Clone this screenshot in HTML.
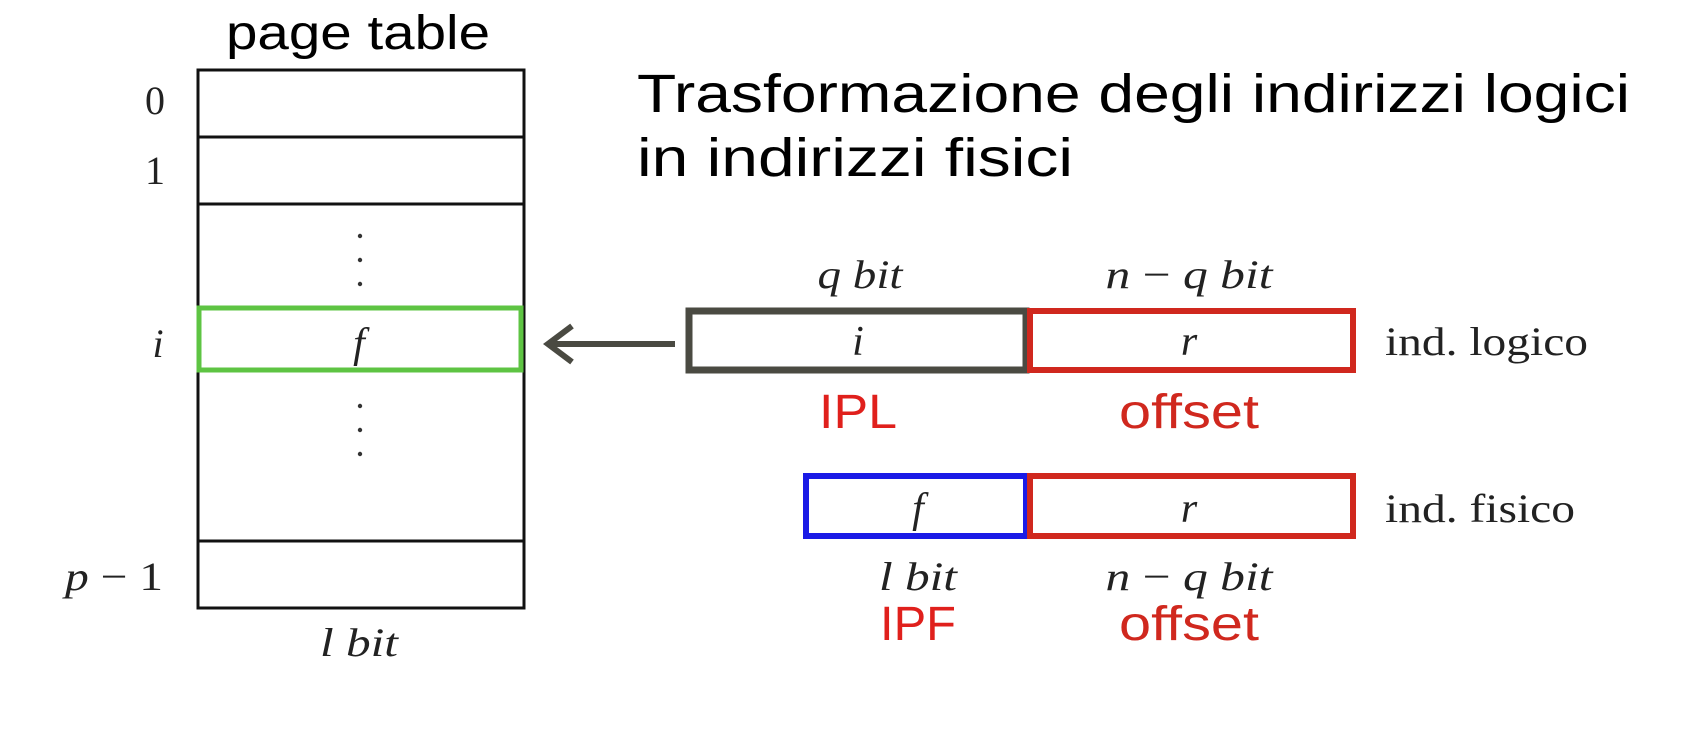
<!DOCTYPE html>
<html><head><meta charset="utf-8"><style>
html,body{margin:0;padding:0;background:#fff;}
svg{display:block;}
.m{font-family:"Liberation Serif",serif;font-style:italic;fill:#222;}
.r{font-family:"Liberation Serif",serif;fill:#222;}
.s{font-family:"Liberation Sans",sans-serif;}
</style></head><body>
<svg width="1708" height="730" viewBox="0 0 1708 730" xmlns="http://www.w3.org/2000/svg">
<text x="358" y="49" text-anchor="middle" class="s" font-size="48" fill="#000" textLength="264" lengthAdjust="spacingAndGlyphs">page table</text>
<g stroke="#111" stroke-width="3" fill="none">
<rect x="198" y="70" width="326" height="538"/>
<line x1="198" y1="137" x2="524" y2="137"/>
<line x1="198" y1="204" x2="524" y2="204"/>
<line x1="198" y1="541" x2="524" y2="541"/>
</g>
<rect x="199" y="308" width="322" height="62" fill="#fff" stroke="#5ec443" stroke-width="5"/>
<g fill="#333">
<circle cx="360" cy="236" r="2.2"/><circle cx="360" cy="260" r="2.2"/><circle cx="360" cy="284" r="2.2"/>
<circle cx="360" cy="406" r="2.2"/><circle cx="360" cy="430" r="2.2"/><circle cx="360" cy="454" r="2.2"/>
</g>
<text x="155" y="114" text-anchor="middle" class="r" font-size="40">0</text>
<text x="155" y="184" text-anchor="middle" class="r" font-size="40">1</text>
<text x="158" y="357" text-anchor="middle" class="m" font-size="40">i</text>
<text x="114" y="590" text-anchor="middle" class="m" font-size="40" textLength="98" lengthAdjust="spacingAndGlyphs">p <tspan font-style="normal">− 1</tspan></text>
<text x="359" y="357" text-anchor="middle" class="m" font-size="42">f</text>
<text x="359" y="656" text-anchor="middle" class="m" font-size="40" textLength="78" lengthAdjust="spacingAndGlyphs">l bit</text>

<text x="637" y="112" class="s" font-size="54" fill="#000" textLength="993" lengthAdjust="spacingAndGlyphs">Trasformazione degli indirizzi logici</text>
<text x="637" y="176" class="s" font-size="54" fill="#000" textLength="436" lengthAdjust="spacingAndGlyphs">in indirizzi fisici</text>

<line x1="675" y1="344" x2="552" y2="344" stroke="#4a4a42" stroke-width="6"/>
<polyline points="572,326 548,344 572,362" fill="none" stroke="#4a4a42" stroke-width="6"/>

<rect x="689" y="311" width="337" height="59" fill="none" stroke="#4a4a42" stroke-width="7"/>
<rect x="1030" y="311" width="323" height="59" fill="none" stroke="#d0281e" stroke-width="6"/>
<text x="860" y="288" text-anchor="middle" class="m" font-size="40" textLength="85" lengthAdjust="spacingAndGlyphs">q bit</text>
<text x="1189" y="288" text-anchor="middle" class="m" font-size="40" textLength="167" lengthAdjust="spacingAndGlyphs">n <tspan font-style="normal">−</tspan> q bit</text>
<text x="858" y="355" text-anchor="middle" class="m" font-size="42">i</text>
<text x="1189" y="355" text-anchor="middle" class="m" font-size="42">r</text>
<text x="1385" y="355" class="r" font-size="40" textLength="203" lengthAdjust="spacingAndGlyphs">ind. logico</text>
<text x="858" y="428" text-anchor="middle" class="s" font-size="48" fill="#e0201c" textLength="78" lengthAdjust="spacingAndGlyphs">IPL</text>
<text x="1189" y="428" text-anchor="middle" class="s" font-size="48" fill="#d0281e" textLength="140" lengthAdjust="spacingAndGlyphs">offset</text>

<rect x="806" y="476" width="220" height="60" fill="none" stroke="#1a1ae6" stroke-width="6"/>
<rect x="1030" y="476" width="323" height="60" fill="none" stroke="#d0281e" stroke-width="6"/>
<text x="918" y="522" text-anchor="middle" class="m" font-size="42">f</text>
<text x="1189" y="522" text-anchor="middle" class="m" font-size="42">r</text>
<text x="1385" y="522" class="r" font-size="40" textLength="190" lengthAdjust="spacingAndGlyphs">ind. fisico</text>
<text x="918" y="590" text-anchor="middle" class="m" font-size="40" textLength="78" lengthAdjust="spacingAndGlyphs">l bit</text>
<text x="1189" y="590" text-anchor="middle" class="m" font-size="40" textLength="167" lengthAdjust="spacingAndGlyphs">n <tspan font-style="normal">−</tspan> q bit</text>
<text x="918" y="640" text-anchor="middle" class="s" font-size="48" fill="#e0201c" textLength="76" lengthAdjust="spacingAndGlyphs">IPF</text>
<text x="1189" y="640" text-anchor="middle" class="s" font-size="48" fill="#d0281e" textLength="140" lengthAdjust="spacingAndGlyphs">offset</text>
</svg>
</body></html>
